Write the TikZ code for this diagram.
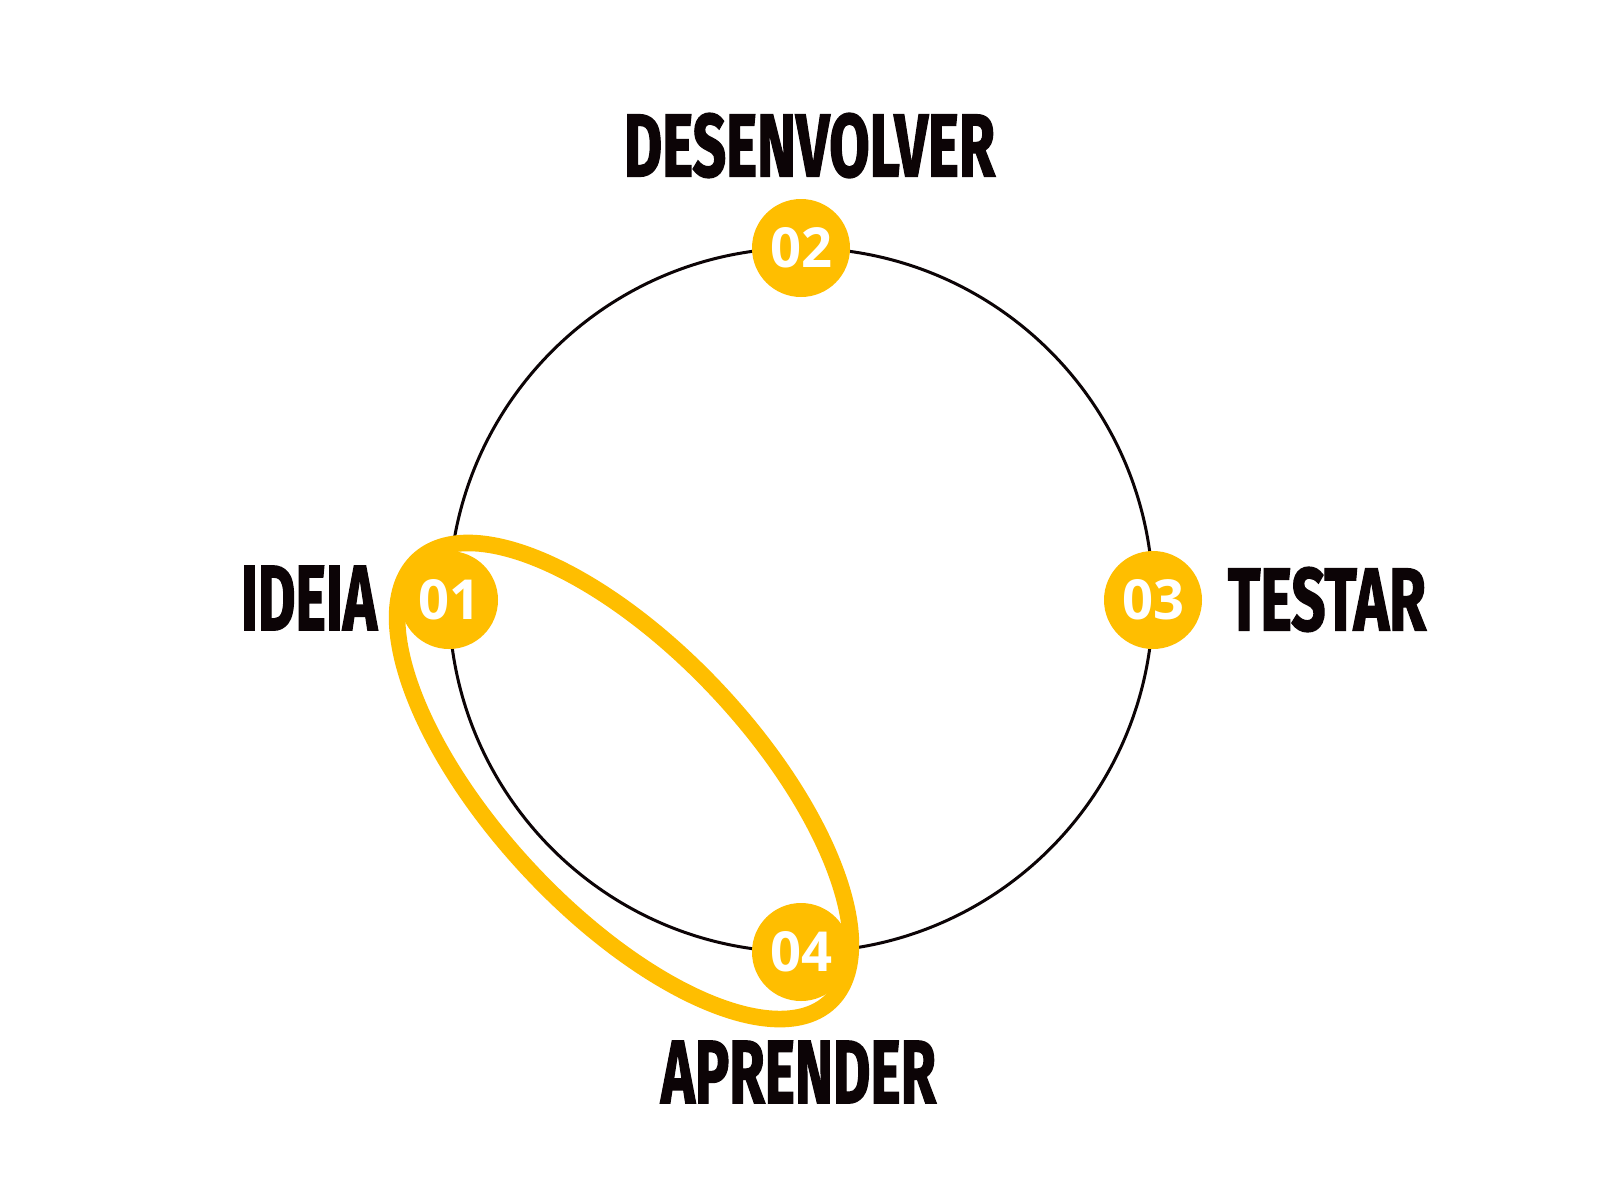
\documentclass[tikz,border=0pt]{standalone}
\usepackage{fontspec}
\usepackage{graphicx}
\newfontfamily\labelfont{Fira Sans}[FakeBold=2]
\newfontfamily\numfont{Open Sans}
\definecolor{gold}{RGB}{255,190,0}
\definecolor{ink}{RGB}{12,4,6}
\begin{document}
\begin{tikzpicture}[x=0.5pt,y=-0.5pt,
  badge/.style={circle,fill=gold,minimum size=49pt,inner sep=0pt,text=white},
  steplabel/.style={inner sep=0pt,text=ink},
  ring/.style={line width=1.5pt,draw=ink},
  loopband/.style={line width=8.3pt,draw=gold}]
\useasboundingbox[fill=white] (0,0) rectangle (1600,1200);
\coordinate (c) at (801,600);
\draw[ring] (c) circle[radius=176pt];
\coordinate (lc) at (624,781);
\draw[loopband,shift={(lc)},rotate=-47] (0,0) ellipse[x radius=151pt, y radius=65pt];
\node[badge] (n1) at (449,600) {\resizebox{31pt}{20pt}{\numfont\bfseries 01}};
\node[badge] (n2) at (801,248) {\resizebox{31pt}{20pt}{\numfont\bfseries 02}};
\node[badge] (n3) at (1153,600) {\resizebox{31pt}{20pt}{\numfont\bfseries 03}};
\node[badge] (n4) at (801,952) {\resizebox{31pt}{20pt}{\numfont\bfseries 04}};
\node[steplabel] (l2) at (809.5,145.5) {\resizebox{185.5pt}{31.5pt}{\labelfont\bfseries DESENVOLVER}};
\node[steplabel] (l1) at (309,598) {\resizebox{68pt}{32pt}{\labelfont\bfseries IDEIA}};
\node[steplabel] (l3) at (1327,599.5) {\resizebox{99pt}{31.5pt}{\labelfont\bfseries TESTAR}};
\node[steplabel] (l4) at (798.5,1072) {\resizebox{137.5pt}{31pt}{\labelfont\bfseries APRENDER}};
\end{tikzpicture}
\end{document}
